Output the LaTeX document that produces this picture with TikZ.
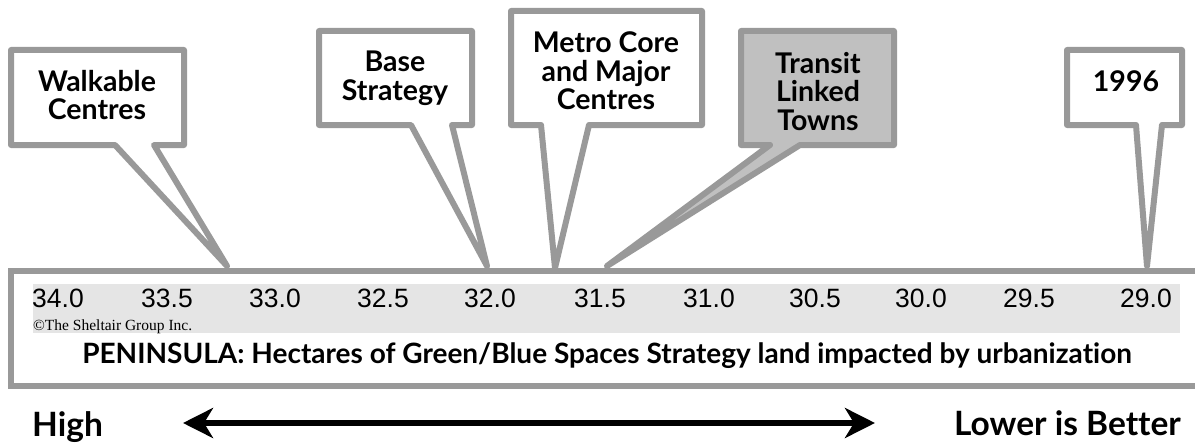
\documentclass[tikz,border=0pt]{standalone}
\usepackage{fontspec}
\setmainfont{Lato}[Ligatures=NoCommon]
\newfontfamily\numfont{Liberation Sans}
\newfontfamily\serfont{Liberation Serif}
\usetikzlibrary{arrows.meta}
\definecolor{frame}{RGB}{153,153,153}
\definecolor{band}{RGB}{229,229,229}
\definecolor{hilite}{RGB}{192,192,192}
\tikzset{
  callout/.style={draw=frame, line width=6pt, line join=round, fill=white},
  calltext/.style={font=\fontsize{28.5}{28.5}\selectfont\bfseries, align=center, anchor=base, inner sep=0pt},
  tick/.style={font=\numfont\fontsize{26.5}{26.5}\selectfont, anchor=base, inner sep=0pt},
  bigtext/.style={font=\fontsize{33.5}{34}\selectfont\bfseries, inner sep=0pt},
}
\begin{document}
\begin{tikzpicture}[x=1pt, y=-1pt]
\useasboundingbox (0,0) rectangle (1195,444);
\clip (0,0) rectangle (1195,444);

% callout balloons
\draw[callout] (11,50) -- (184,50) -- (184,145) -- (154,145) -- (227,266) -- (115,145) -- (11,145) -- cycle;
\draw[callout] (319,31) -- (472,31) -- (472,125) -- (452,125) -- (487,266) -- (411,125) -- (319,125) -- cycle;
\draw[callout] (511,11) -- (702,11) -- (702,125) -- (589,125) -- (555,268) -- (541,125) -- (511,125) -- cycle;
\draw[callout, fill=hilite] (741,31) -- (894,31) -- (894,145) -- (800,145) -- (607,266) -- (770,145) -- (741,145) -- cycle;
\draw[callout] (1067,50) -- (1182,50) -- (1182,125) -- (1162,125) -- (1147,266) -- (1136,125) -- (1067,125) -- cycle;

% multi-line labels: the base anchor sits on the last line
\node[calltext] (walk) at (97,120) {Walkable\\Centres};
\node[calltext] (base) at (395,100) {Base\\Strategy};
\node[calltext] (metro) at (606,110) {Metro Core\\and Major\\Centres};
\node[calltext] (transit) at (818,130) {Transit\\Linked\\Towns};
\node[calltext] (yr) at (1126,92) {1996};

% scale panel
\draw[draw=frame, line width=6pt, fill=white] (11,271) rectangle (1210,386);
\fill[band] (33,284) rectangle (1180,333);

\node[tick] (t0) at (58,307) {34.0};
\node[tick] (t1) at (167,307) {33.5};
\node[tick] (t2) at (275,307) {33.0};
\node[tick] (t3) at (383,307) {32.5};
\node[tick] (t4) at (490,307) {32.0};
\node[tick] (t5) at (600,307) {31.5};
\node[tick] (t6) at (709,307) {31.0};
\node[tick] (t7) at (815,307) {30.5};
\node[tick] (t8) at (921,307) {30.0};
\node[tick] (t9) at (1029,307) {29.5};
\node[tick] (t10) at (1146,307) {29.0};

\node[font=\serfont\fontsize{15.5}{16}\selectfont, anchor=base west, inner sep=0pt] (copy) at (33,330) {\textcopyright The Sheltair Group Inc.};

\node[font=\fontsize{28}{30}\selectfont\bfseries, anchor=base, inner sep=0pt] (title) at (607,363)
  {PENINSULA: Hectares of Green/Blue Spaces Strategy land impacted by urbanization};

% direction arrow
\node[bigtext, anchor=base west] (high) at (32,436) {High};
\node[bigtext, anchor=base east] (low) at (1181,435) {Lower is Better};
\coordinate (aL) at (183,423);
\coordinate (aR) at (875,423);
\draw[line width=6.5pt, {Stealth[length=30pt, width=30pt, inset=9pt]}-{Stealth[length=30pt, width=30pt, inset=9pt]}] (aL) -- (aR);
\end{tikzpicture}
\end{document}
